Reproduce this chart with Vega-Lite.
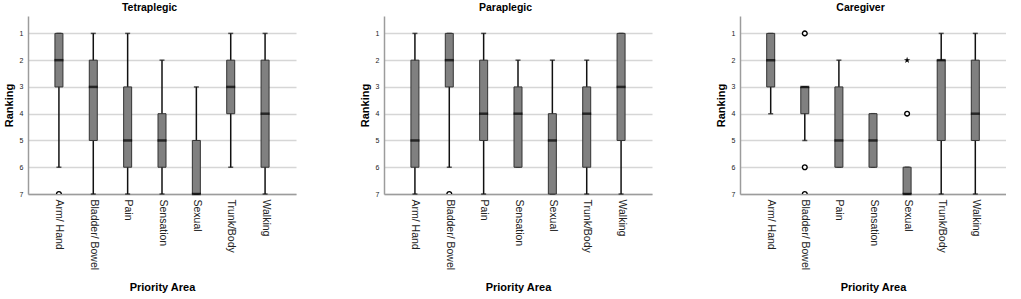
{
  "$schema": "https://vega.github.io/schema/vega-lite/v6.json",
  "padding": {"left": 3, "top": 2, "right": 0, "bottom": 0},
  "background": "white",
  "datasets": {
    "boxes": [
      {"panel": "Tetraplegic", "area": "Arm/ Hand", "wmin": 1, "q1": 1, "median": 2, "q3": 3, "wmax": 6},
      {"panel": "Tetraplegic", "area": "Bladder/ Bowel", "wmin": 1, "q1": 2, "median": 3, "q3": 5, "wmax": 7},
      {"panel": "Tetraplegic", "area": "Pain", "wmin": 1, "q1": 3, "median": 5, "q3": 6, "wmax": 7},
      {"panel": "Tetraplegic", "area": "Sensation", "wmin": 2, "q1": 4, "median": 5, "q3": 6, "wmax": 7},
      {"panel": "Tetraplegic", "area": "Sexual", "wmin": 3, "q1": 5, "median": 7, "q3": 7, "wmax": 7},
      {"panel": "Tetraplegic", "area": "Trunk/Body", "wmin": 1, "q1": 2, "median": 3, "q3": 4, "wmax": 6},
      {"panel": "Tetraplegic", "area": "Walking", "wmin": 1, "q1": 2, "median": 4, "q3": 6, "wmax": 7},
      {"panel": "Paraplegic", "area": "Arm/ Hand", "wmin": 1, "q1": 2, "median": 5, "q3": 6, "wmax": 7},
      {"panel": "Paraplegic", "area": "Bladder/ Bowel", "wmin": 1, "q1": 1, "median": 2, "q3": 3, "wmax": 6},
      {"panel": "Paraplegic", "area": "Pain", "wmin": 1, "q1": 2, "median": 4, "q3": 5, "wmax": 7},
      {"panel": "Paraplegic", "area": "Sensation", "wmin": 2, "q1": 3, "median": 4, "q3": 6, "wmax": 6},
      {"panel": "Paraplegic", "area": "Sexual", "wmin": 2, "q1": 4, "median": 5, "q3": 7, "wmax": 7},
      {"panel": "Paraplegic", "area": "Trunk/Body", "wmin": 2, "q1": 3, "median": 4, "q3": 6, "wmax": 7},
      {"panel": "Paraplegic", "area": "Walking", "wmin": 1, "q1": 1, "median": 3, "q3": 5, "wmax": 7},
      {"panel": "Caregiver", "area": "Arm/ Hand", "wmin": 1, "q1": 1, "median": 2, "q3": 3, "wmax": 4},
      {"panel": "Caregiver", "area": "Bladder/ Bowel", "wmin": 3, "q1": 3, "median": 3, "q3": 4, "wmax": 5},
      {"panel": "Caregiver", "area": "Pain", "wmin": 2, "q1": 3, "median": 5, "q3": 6, "wmax": 6},
      {"panel": "Caregiver", "area": "Sensation", "wmin": 4, "q1": 4, "median": 5, "q3": 6, "wmax": 6},
      {"panel": "Caregiver", "area": "Sexual", "wmin": 6, "q1": 6, "median": 7, "q3": 7, "wmax": 7},
      {"panel": "Caregiver", "area": "Trunk/Body", "wmin": 1, "q1": 2, "median": 2, "q3": 5, "wmax": 7},
      {"panel": "Caregiver", "area": "Walking", "wmin": 1, "q1": 2, "median": 4, "q3": 5, "wmax": 7}
    ],
    "outliers": [
      {"panel": "Tetraplegic", "area": "Arm/ Hand", "value": 7, "kind": "outlier"},
      {"panel": "Paraplegic", "area": "Bladder/ Bowel", "value": 7, "kind": "outlier"},
      {"panel": "Caregiver", "area": "Bladder/ Bowel", "value": 1, "kind": "outlier"},
      {"panel": "Caregiver", "area": "Bladder/ Bowel", "value": 6, "kind": "outlier"},
      {"panel": "Caregiver", "area": "Bladder/ Bowel", "value": 7, "kind": "outlier"},
      {"panel": "Caregiver", "area": "Sexual", "value": 4, "kind": "outlier"},
      {"panel": "Caregiver", "area": "Sexual", "value": 2, "kind": "extreme"}
    ]
  },
  "hconcat": [
    {
      "width": 268, "height": 178,
      "title": "Tetraplegic",
      "encoding": {
        "x": {"field": "area", "type": "nominal", "sort": null, "scale": {"type": "point", "padding": 0.9}, "title": "Priority Area"}
      },
      "layer": [
        {"data": {"name": "boxes"}, "transform": [{"filter": "datum.panel == 'Tetraplegic'"}], "mark": {"type": "rule", "color": "#111", "strokeWidth": 1.5},
          "encoding": {"y": {"field": "wmin", "type": "quantitative", "title": "Ranking", "scale": {"domain": [0.35, 7], "reverse": true, "nice": false, "zero": false}, "axis": {"values": [1, 2, 3, 4, 5, 6, 7], "tickCount": 7, "labelOverlap": false, "grid": true}}, "y2": {"field": "wmax"}}},
        {"data": {"name": "boxes"}, "transform": [{"filter": "datum.panel == 'Tetraplegic'"}], "mark": {"type": "tick", "color": "#111", "size": 5, "thickness": 1.5},
          "encoding": {"y": {"field": "wmin", "type": "quantitative", "title": "Ranking"}}},
        {"data": {"name": "boxes"}, "transform": [{"filter": "datum.panel == 'Tetraplegic'"}], "mark": {"type": "tick", "color": "#111", "size": 5, "thickness": 1.5},
          "encoding": {"y": {"field": "wmax", "type": "quantitative", "title": "Ranking"}}},
        {"data": {"name": "boxes"}, "transform": [{"filter": "datum.panel == 'Tetraplegic'"}], "mark": {"type": "bar", "size": 8, "fill": "#808080", "stroke": "#333", "strokeWidth": 1},
          "encoding": {"y": {"field": "q1", "type": "quantitative", "title": "Ranking"}, "y2": {"field": "q3"}}},
        {"data": {"name": "boxes"}, "transform": [{"filter": "datum.panel == 'Tetraplegic'"}], "mark": {"type": "tick", "color": "#000", "size": 9, "thickness": 2.5},
          "encoding": {"y": {"field": "median", "type": "quantitative", "title": "Ranking"}}},
        {"data": {"name": "outliers"}, "transform": [{"filter": "datum.panel == 'Tetraplegic' && datum.kind == 'outlier'"}], "mark": {"type": "point", "shape": "circle", "size": 22, "filled": false, "fill": "white", "stroke": "#000", "strokeWidth": 1.4, "clip": true, "opacity": 1},
          "encoding": {"y": {"field": "value", "type": "quantitative", "title": "Ranking"}}}
      ]
    },
    {
      "width": 268, "height": 178,
      "title": "Paraplegic",
      "encoding": {
        "x": {"field": "area", "type": "nominal", "sort": null, "scale": {"type": "point", "padding": 0.9}, "title": "Priority Area"}
      },
      "layer": [
        {"data": {"name": "boxes"}, "transform": [{"filter": "datum.panel == 'Paraplegic'"}], "mark": {"type": "rule", "color": "#111", "strokeWidth": 1.5},
          "encoding": {"y": {"field": "wmin", "type": "quantitative", "title": "Ranking", "scale": {"domain": [0.35, 7], "reverse": true, "nice": false, "zero": false}, "axis": {"values": [1, 2, 3, 4, 5, 6, 7], "tickCount": 7, "labelOverlap": false, "grid": true}}, "y2": {"field": "wmax"}}},
        {"data": {"name": "boxes"}, "transform": [{"filter": "datum.panel == 'Paraplegic'"}], "mark": {"type": "tick", "color": "#111", "size": 5, "thickness": 1.5},
          "encoding": {"y": {"field": "wmin", "type": "quantitative", "title": "Ranking"}}},
        {"data": {"name": "boxes"}, "transform": [{"filter": "datum.panel == 'Paraplegic'"}], "mark": {"type": "tick", "color": "#111", "size": 5, "thickness": 1.5},
          "encoding": {"y": {"field": "wmax", "type": "quantitative", "title": "Ranking"}}},
        {"data": {"name": "boxes"}, "transform": [{"filter": "datum.panel == 'Paraplegic'"}], "mark": {"type": "bar", "size": 8, "fill": "#808080", "stroke": "#333", "strokeWidth": 1},
          "encoding": {"y": {"field": "q1", "type": "quantitative", "title": "Ranking"}, "y2": {"field": "q3"}}},
        {"data": {"name": "boxes"}, "transform": [{"filter": "datum.panel == 'Paraplegic'"}], "mark": {"type": "tick", "color": "#000", "size": 9, "thickness": 2.5},
          "encoding": {"y": {"field": "median", "type": "quantitative", "title": "Ranking"}}},
        {"data": {"name": "outliers"}, "transform": [{"filter": "datum.panel == 'Paraplegic' && datum.kind == 'outlier'"}], "mark": {"type": "point", "shape": "circle", "size": 22, "filled": false, "fill": "white", "stroke": "#000", "strokeWidth": 1.4, "clip": true, "opacity": 1},
          "encoding": {"y": {"field": "value", "type": "quantitative", "title": "Ranking"}}}
      ]
    },
    {
      "width": 266, "height": 178,
      "title": "Caregiver",
      "encoding": {
        "x": {"field": "area", "type": "nominal", "sort": null, "scale": {"type": "point", "padding": 0.9}, "title": "Priority Area"}
      },
      "layer": [
        {"data": {"name": "boxes"}, "transform": [{"filter": "datum.panel == 'Caregiver'"}], "mark": {"type": "rule", "color": "#111", "strokeWidth": 1.5},
          "encoding": {"y": {"field": "wmin", "type": "quantitative", "title": "Ranking", "scale": {"domain": [0.35, 7], "reverse": true, "nice": false, "zero": false}, "axis": {"values": [1, 2, 3, 4, 5, 6, 7], "tickCount": 7, "labelOverlap": false, "grid": true}}, "y2": {"field": "wmax"}}},
        {"data": {"name": "boxes"}, "transform": [{"filter": "datum.panel == 'Caregiver'"}], "mark": {"type": "tick", "color": "#111", "size": 5, "thickness": 1.5},
          "encoding": {"y": {"field": "wmin", "type": "quantitative", "title": "Ranking"}}},
        {"data": {"name": "boxes"}, "transform": [{"filter": "datum.panel == 'Caregiver'"}], "mark": {"type": "tick", "color": "#111", "size": 5, "thickness": 1.5},
          "encoding": {"y": {"field": "wmax", "type": "quantitative", "title": "Ranking"}}},
        {"data": {"name": "boxes"}, "transform": [{"filter": "datum.panel == 'Caregiver'"}], "mark": {"type": "bar", "size": 8, "fill": "#808080", "stroke": "#333", "strokeWidth": 1},
          "encoding": {"y": {"field": "q1", "type": "quantitative", "title": "Ranking"}, "y2": {"field": "q3"}}},
        {"data": {"name": "boxes"}, "transform": [{"filter": "datum.panel == 'Caregiver'"}], "mark": {"type": "tick", "color": "#000", "size": 9, "thickness": 2.5},
          "encoding": {"y": {"field": "median", "type": "quantitative", "title": "Ranking"}}},
        {"data": {"name": "outliers"}, "transform": [{"filter": "datum.panel == 'Caregiver' && datum.kind == 'outlier'"}], "mark": {"type": "point", "shape": "circle", "size": 22, "filled": false, "fill": "white", "stroke": "#000", "strokeWidth": 1.4, "clip": true, "opacity": 1},
          "encoding": {"y": {"field": "value", "type": "quantitative", "title": "Ranking"}}},
        {"data": {"name": "outliers"}, "transform": [{"filter": "datum.panel == 'Caregiver' && datum.kind == 'extreme'"}], "mark": {"type": "point", "shape": "M0,-1L0.224,-0.309L0.951,-0.309L0.363,0.118L0.588,0.809L0,0.382L-0.588,0.809L-0.363,0.118L-0.951,-0.309L-0.224,-0.309Z", "size": 45, "filled": true, "color": "#000", "opacity": 1},
          "encoding": {"y": {"field": "value", "type": "quantitative", "title": "Ranking"}}}
      ]
    }
  ],
  "config": {
    "font": "Liberation Sans",
    "view": {"stroke": null},
    "concat": {"spacing": 63},
    "title": {"fontSize": 10.5, "fontWeight": "bold", "font": "Liberation Sans", "color": "#000", "frame": "bounds", "anchor": "middle", "offset": 3},
    "axis": {"domainColor": "#9c9c9c", "domainWidth": 1.5, "gridColor": "#d6d6d6", "gridWidth": 1.5, "ticks": false, "labelColor": "#222", "titleColor": "#000", "titleFontWeight": "bold", "titleFontSize": 11, "labelFont": "Liberation Sans", "titleFont": "Liberation Sans"},
    "axisX": {"grid": false, "labelAngle": 90, "labelFontSize": 10.5, "labelPadding": 5, "titlePadding": 12},
    "axisY": {"labelFontSize": 7, "labelPadding": 5, "titlePadding": 5, "labelOverlap": false}
  }
}
